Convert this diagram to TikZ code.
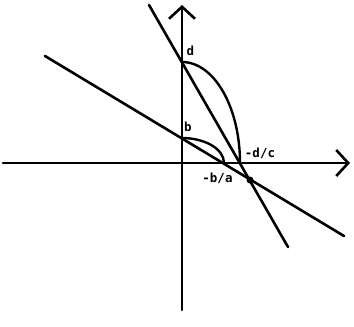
\documentclass[tikz,border=0pt]{standalone}
\usepackage{fontspec}
\setmonofont{DejaVu Sans Mono}
\usetikzlibrary{arrows.meta}
\begin{document}
\begin{tikzpicture}[x=1pt,y=-1pt, line width=2.6pt, line cap=round, line join=round,
  lbl/.style={font=\ttfamily\bfseries\fontsize{12.5}{14}\selectfont, inner sep=0pt},
  axis/.style={-{Straight Barb[length=12pt,width=26pt]}},
  curve/.style={line width=2.4pt}]
\useasboundingbox (0,0) rectangle (354,327);
\coordinate (O) at (182,163);
\coordinate (xs) at (3,163); \coordinate (xe) at (350,163);
\coordinate (ys) at (182,310); \coordinate (ye) at (182,5);
\coordinate (d) at (182,62); \coordinate (b) at (182,138);
\coordinate (dc) at (240,163); \coordinate (ba) at (224,163);
\coordinate (s1) at (149,5); \coordinate (s2) at (288,247);
\coordinate (t1) at (45,56); \coordinate (t2) at (344,236);
\draw[axis] (xs) -- (xe);
\draw[axis] (ys) -- (ye);
\draw (s1) -- (s2);
\draw (t1) -- (t2);
\draw[curve] (b) .. controls (205,138) and (224,149) .. (ba);
\draw[curve] (d) .. controls (214,62) and (240,107) .. (dc);
\node[circle, fill, inner sep=0pt, minimum size=7pt] (P) at (250,180) {};
\node[lbl] (ld) at (190.5,51) {d};
\node[lbl] (lb) at (188,127) {b};
\node[lbl] (ldc) at (260,153) {-d/c};
\node[lbl] (lba) at (217.5,178) {-b/a};
\end{tikzpicture}
\end{document}
